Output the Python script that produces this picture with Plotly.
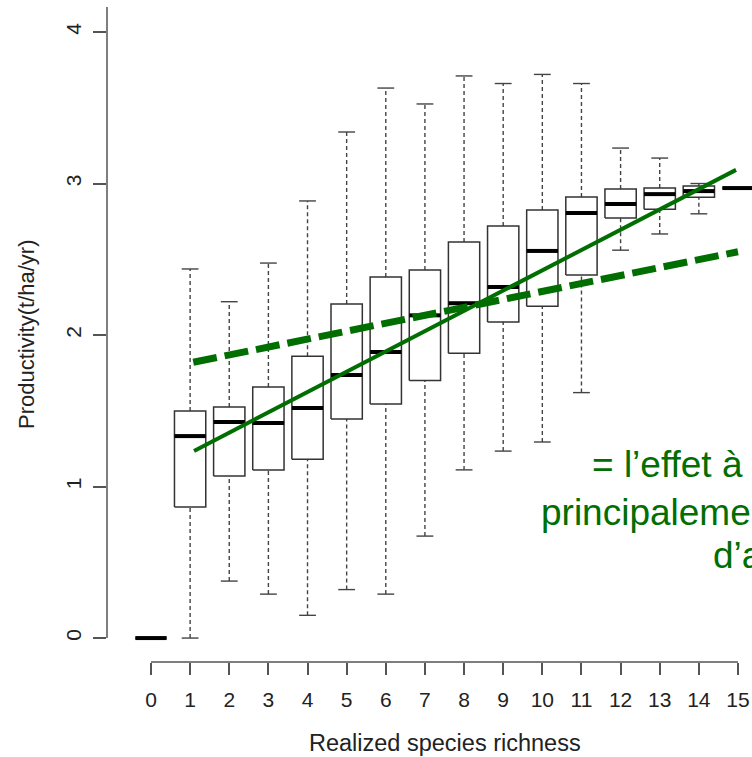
import plotly.graph_objects as go

# ---------------- data ----------------
richness = list(range(16))
whisker_low = [0.0, 0.0, 0.376, 0.29, 0.15, 0.32, 0.29, 0.673, 1.11, 1.234, 1.294, 1.62, 2.56, 2.667, 2.80, 2.97]
q1 = [0.0, 0.865, 1.07, 1.11, 1.18, 1.445, 1.545, 1.70, 1.88, 2.086, 2.19, 2.396, 2.772, 2.83, 2.91, 2.97]
median = [0.0, 1.333, 1.426, 1.42, 1.518, 1.736, 1.888, 2.13, 2.21, 2.317, 2.555, 2.805, 2.865, 2.93, 2.95, 2.97]
q3 = [0.0, 1.498, 1.525, 1.657, 1.86, 2.205, 2.383, 2.43, 2.614, 2.72, 2.825, 2.911, 2.964, 2.97, 2.983, 2.97]
whisker_high = [0.0, 2.436, 2.22, 2.475, 2.885, 3.34, 3.63, 3.525, 3.71, 3.66, 3.72, 3.66, 3.234, 3.168, 3.0, 2.97]

solid_fit_x = [1.1, 14.95]
solid_fit_y = [1.235, 3.09]
dashed_fit_x = [1.08, 15.0]
dashed_fit_y = [1.82, 2.55]

x_ticks = list(range(16))
y_ticks = [0, 1, 2, 3, 4]

x_title = "Realized species richness"
y_title = "Productivity(t/ha/yr)"
note_lines = ["= l\u2019effet à", "principaleme", "d\u2019a"]

# ---------------- style ----------------
GREEN = "#006e00"
AX = "#555555"
FONT = "Arial, Liberation Sans, sans-serif"
BOX_HALF = 0.4
CAP_HALF = 0.215

W, H = 752, 757
ML, MR, MT, MB = 107, 0, 7, 95
x_range = [-1.124, 15.358]
y_range = [-0.158, 4.165]

fig = go.Figure()

# whiskers (dashed)
wx, wy = [], []
for c, lo, a, b, hi in zip(richness, whisker_low, q1, q3, whisker_high):
    wx += [c, c, None, c, c, None]
    wy += [lo, a, None, b, hi, None]
fig.add_trace(go.Scatter(x=wx, y=wy, mode="lines",
                         line=dict(color="#444444", width=1.4, dash="4px,3px"),
                         hoverinfo="skip"))
# caps
cx, cy = [], []
for c, lo, hi in zip(richness, whisker_low, whisker_high):
    cx += [c - CAP_HALF, c + CAP_HALF, None, c - CAP_HALF, c + CAP_HALF, None]
    cy += [lo, lo, None, hi, hi, None]
fig.add_trace(go.Scatter(x=cx, y=cy, mode="lines",
                         line=dict(color="#444444", width=1.4), hoverinfo="skip"))
# boxes
bx, by = [], []
for c, a, b in zip(richness, q1, q3):
    bx += [c - BOX_HALF, c + BOX_HALF, c + BOX_HALF, c - BOX_HALF, c - BOX_HALF, None]
    by += [a, a, b, b, a, None]
fig.add_trace(go.Scatter(x=bx, y=by, mode="lines", fill="toself", fillcolor="white",
                         line=dict(color="#333333", width=1.5), hoverinfo="skip"))
# medians
mx, my = [], []
for c, m in zip(richness, median):
    mx += [c - BOX_HALF, c + BOX_HALF, None]
    my += [m, m, None]
fig.add_trace(go.Scatter(x=mx, y=my, mode="lines",
                         line=dict(color="black", width=4), hoverinfo="skip"))

# fitted lines
fig.add_trace(go.Scatter(x=dashed_fit_x, y=dashed_fit_y, mode="lines",
                         line=dict(color=GREEN, width=7, dash="24px,8px"), hoverinfo="skip"))
fig.add_trace(go.Scatter(x=solid_fit_x, y=solid_fit_y, mode="lines",
                         line=dict(color=GREEN, width=4), hoverinfo="skip"))

# axis lines (R style: span first to last tick)
fig.add_shape(type="line", xref="x", yref="paper", x0=min(x_ticks), x1=max(x_ticks),
              y0=0, y1=0, line=dict(color=AX, width=1.5))
fig.add_shape(type="line", xref="paper", yref="y", x0=0, x1=0,
              y0=min(y_ticks), y1=y_range[1], line=dict(color=AX, width=1.5))

def px_to_paper_x(px):
    return (px - ML) / (W - ML - MR)

def px_to_paper_y(py):
    return (H - MB - py) / (H - MB - MT)

annotations = [
    dict(text=x_title, x=px_to_paper_x(445), y=px_to_paper_y(743), xref="paper", yref="paper",
         xanchor="center", yanchor="middle", showarrow=False,
         font=dict(family=FONT, size=23.5, color="#222222")),
    dict(text=y_title, x=px_to_paper_x(26), y=px_to_paper_y(334), xref="paper", yref="paper",
         xanchor="center", yanchor="middle", showarrow=False, textangle=-90,
         font=dict(family=FONT, size=22, color="#222222")),
]
for txt, lx, ly in zip(note_lines, [592, 541, 713], [465, 512, 555]):
    annotations.append(dict(text=txt, x=px_to_paper_x(lx), y=px_to_paper_y(ly),
                            xref="paper", yref="paper", xanchor="left", yanchor="middle",
                            showarrow=False, xshift=-2,
                            font=dict(family=FONT, size=37, color=GREEN)))

fig.update_layout(
    width=W, height=H,
    margin=dict(l=ML, r=MR, t=MT, b=MB, pad=0),
    paper_bgcolor="white", plot_bgcolor="white",
    showlegend=False,
    annotations=annotations,
    font=dict(family=FONT, color="#222222"),
)
fig.update_xaxes(range=x_range, tickvals=x_ticks, ticktext=[str(t) for t in x_ticks],
                 ticks="outside", ticklen=12, tickwidth=1.5, tickcolor=AX,
                 ticklabelstandoff=7,
                 showline=False, showgrid=False, zeroline=False,
                 tickfont=dict(family=FONT, size=21, color="#222222"))
fig.update_yaxes(range=y_range, tickvals=y_ticks, ticktext=[str(t) for t in y_ticks],
                 ticks="outside", ticklen=13, tickwidth=1.5, tickcolor=AX, tickangle=-90,
                 ticklabelstandoff=4,
                 showline=False, showgrid=False, zeroline=False,
                 tickfont=dict(family=FONT, size=21, color="#222222"))

fig.write_html("out.html")
